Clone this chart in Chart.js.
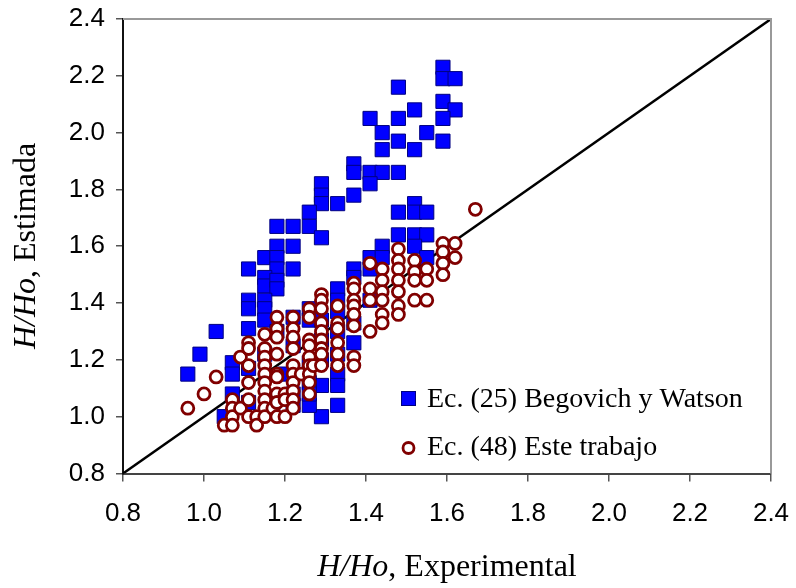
<!DOCTYPE html>
<html>
<head>
<meta charset="utf-8">
<script src="https://cdn.jsdelivr.net/npm/chart.js@4.4.1/dist/chart.umd.min.js"></script>
<style>
  html, body { margin: 0; padding: 0; background: #fff; }
</style>
</head>
<body>
<canvas id="chart" width="796" height="588"></canvas>
<script>
// Ec. (25) Begovich y Watson - estimated vs experimental H/Ho
const begX = [1.59, 1.59, 1.62, 1.48, 1.59, 1.52, 1.62, 1.41, 1.48, 1.59, 1.44, 1.55, 1.48, 1.59, 1.44, 1.52,
    1.37, 1.37, 1.41, 1.44, 1.48, 1.41, 1.29, 1.29, 1.37, 1.29, 1.33, 1.26, 1.52, 1.48, 1.52, 1.55,
    1.18, 1.22, 1.26, 1.29, 1.18, 1.22, 1.15, 1.18, 1.11, 1.18, 1.22, 1.15, 1.15, 1.18, 1.18, 1.11,
    1.15, 1.11, 1.15, 1.15, 1.26, 1.26, 1.03, 1.11, 0.99, 0.96, 1.07, 1.07, 1.07, 1.05,
    1.48, 1.52, 1.55, 1.44, 1.52, 1.41, 1.44, 1.55, 1.37, 1.37, 1.41, 1.33, 1.33, 1.37, 1.33, 1.33,
    1.29, 1.33, 1.29, 1.26, 1.18, 1.22, 1.22, 1.29, 1.15, 1.20, 1.26, 1.22, 1.29, 1.33, 1.11, 1.17,
    1.33, 1.29, 1.26, 1.11, 1.37, 1.41, 1.33, 1.26, 1.22];
const begY = [2.23, 2.19, 2.19, 2.16, 2.11, 2.08, 2.08, 2.05, 2.05, 2.05, 2.00, 2.00, 1.97, 1.97, 1.94, 1.94,
    1.89, 1.86, 1.86, 1.86, 1.86, 1.82, 1.82, 1.78, 1.78, 1.75, 1.75, 1.72, 1.75, 1.72, 1.72, 1.72,
    1.67, 1.67, 1.67, 1.63, 1.60, 1.60, 1.56, 1.56, 1.52, 1.52, 1.52, 1.49, 1.46, 1.48, 1.45, 1.41,
    1.41, 1.38, 1.38, 1.34, 1.38, 1.34, 1.30, 1.31, 1.22, 1.15, 1.19, 1.15, 1.08, 1.00,
    1.64, 1.64, 1.64, 1.60, 1.60, 1.56, 1.56, 1.56, 1.52, 1.49, 1.52, 1.45, 1.41, 1.26, 1.15, 1.11,
    1.11, 1.04, 1.00, 1.04, 1.30, 1.35, 1.25, 1.27, 1.22, 1.15, 1.12, 1.08, 1.20, 1.22, 1.05, 1.04,
    1.30, 1.34, 1.19, 1.17, 1.33, 1.41, 1.37, 1.08, 1.04];

// Ec. (48) Este trabajo
const esteX = [0.96, 1.00, 1.03, 1.05,
    1.07, 1.07, 1.07, 1.07, 1.09, 1.09,
    1.11, 1.11, 1.11, 1.11, 1.11, 1.11, 1.13, 1.13,
    1.15, 1.15, 1.15, 1.15, 1.15, 1.15, 1.15, 1.15, 1.15, 1.15, 1.17,
    1.18, 1.18, 1.18, 1.18, 1.18, 1.18, 1.18, 1.18, 1.18, 1.20, 1.20, 1.20,
    1.22, 1.22, 1.22, 1.22, 1.22, 1.22, 1.22, 1.22, 1.22, 1.22, 1.24,
    1.26, 1.26, 1.26, 1.26, 1.26, 1.26, 1.26, 1.26, 1.26, 1.27,
    1.29, 1.29, 1.29, 1.29, 1.29, 1.29, 1.29, 1.29, 1.29,
    1.33, 1.33, 1.33, 1.33, 1.33, 1.33,
    1.37, 1.37, 1.37, 1.37, 1.37, 1.37, 1.37, 1.37,
    1.41, 1.41, 1.41, 1.41,
    1.44, 1.44, 1.44, 1.44, 1.44, 1.44,
    1.48, 1.48, 1.48, 1.48, 1.48, 1.48, 1.48,
    1.52, 1.52, 1.52, 1.52, 1.55, 1.55, 1.55,
    1.59, 1.59, 1.59, 1.59, 1.62, 1.62, 1.67];
const esteY = [1.03, 1.08, 1.14, 0.97,
    1.06, 1.03, 1.00, 0.97, 1.21, 1.03,
    1.26, 1.24, 1.18, 1.12, 1.06, 1.00, 1.00, 0.97,
    1.29, 1.24, 1.21, 1.18, 1.15, 1.12, 1.09, 1.06, 1.03, 1.00, 1.03,
    1.35, 1.31, 1.28, 1.22, 1.15, 1.14, 1.08, 1.05, 1.00, 1.08, 1.06, 1.00,
    1.35, 1.31, 1.28, 1.24, 1.18, 1.15, 1.12, 1.09, 1.06, 1.03, 1.15,
    1.38, 1.35, 1.27, 1.25, 1.21, 1.18, 1.15, 1.12, 1.08, 1.18,
    1.43, 1.41, 1.38, 1.33, 1.30, 1.27, 1.24, 1.22, 1.18,
    1.39, 1.33, 1.31, 1.26, 1.22, 1.18,
    1.47, 1.45, 1.41, 1.39, 1.36, 1.32, 1.21, 1.18,
    1.54, 1.45, 1.41, 1.30,
    1.52, 1.48, 1.44, 1.41, 1.36, 1.33,
    1.59, 1.55, 1.52, 1.48, 1.44, 1.39, 1.36,
    1.55, 1.51, 1.48, 1.41, 1.52, 1.48, 1.41,
    1.61, 1.58, 1.54, 1.50, 1.61, 1.56, 1.73];

// 1:1 reference line
const lineX = [0.8, 2.4];
const lineY = [0.8, 2.4];

const axisMin = 0.8;
const axisMax = 2.4;
const axisStep = 0.2;

const begLabel = 'Ec. (25) Begovich y Watson';
const esteLabel = 'Ec. (48) Este trabajo';

const toPoints = (xs, ys) => xs.map((x, i) => ({ x: x, y: ys[i] }));

const serif = '"Liberation Serif", "Times New Roman", serif';
const sans = '"Liberation Sans", Arial, sans-serif';

// Draws frame (top/right), axis titles and the legend box
const extras = {
    id: 'extras',
    afterDraw(chart) {
        const ctx = chart.ctx;
        const a = chart.chartArea;
        ctx.save();

        // top and right frame lines
        ctx.strokeStyle = '#999';
        ctx.lineWidth = 2;
        ctx.beginPath();
        ctx.moveTo(a.left, a.top);
        ctx.lineTo(a.right, a.top);
        ctx.lineTo(a.right, a.bottom);
        ctx.stroke();

        // x title: italic part + regular part
        ctx.fillStyle = '#000';
        ctx.textBaseline = 'alphabetic';
        drawMixed(ctx, 'H/Ho', ', Experimental', 447, 576);

        // y title rotated
        ctx.save();
        ctx.translate(35, 246);
        ctx.rotate(-Math.PI / 2);
        drawMixed(ctx, 'H/Ho', ', Estimada', 0, 0);
        ctx.restore();

        // legend
        ctx.font = '28px ' + serif;
        ctx.textAlign = 'left';
        ctx.textBaseline = 'middle';
        ctx.fillStyle = '#0000ff';
        ctx.strokeStyle = '#000080';
        ctx.lineWidth = 1;
        ctx.fillRect(401.5, 391.5, 14, 14);
        ctx.strokeRect(401.5, 391.5, 14, 14);
        ctx.fillStyle = '#000';
        ctx.fillText(begLabel, 427, 400);

        ctx.beginPath();
        ctx.arc(408.5, 448, 5.5, 0, Math.PI * 2);
        ctx.fillStyle = '#fff';
        ctx.fill();
        ctx.strokeStyle = '#800000';
        ctx.lineWidth = 2.8;
        ctx.stroke();
        ctx.fillStyle = '#000';
        ctx.fillText(esteLabel, 427, 448);

        ctx.restore();
    }
};

function drawMixed(ctx, italicPart, plainPart, cx, y) {
    ctx.font = 'italic 32px ' + serif;
    const w1 = ctx.measureText(italicPart).width;
    ctx.font = '32px ' + serif;
    const w2 = ctx.measureText(plainPart).width;
    const x0 = cx - (w1 + w2) / 2;
    ctx.textAlign = 'left';
    ctx.font = 'italic 32px ' + serif;
    ctx.fillText(italicPart, x0, y);
    ctx.font = '32px ' + serif;
    ctx.fillText(plainPart, x0 + w1, y);
}

const chart = new Chart(
    document.getElementById('chart'),
    {
        type: 'scatter',
        data: {
            datasets: [
                {
                    label: esteLabel,
                    data: toPoints(esteX, esteY),
                    pointStyle: 'circle',
                    pointRadius: 6,
                    pointBackgroundColor: '#ffffff',
                    pointBorderColor: '#800000',
                    pointBorderWidth: 2.8,
                    order: 0
                },
                {
                    label: begLabel,
                    data: toPoints(begX, begY),
                    pointStyle: 'rect',
                    pointRadius: 10,
                    pointBackgroundColor: '#0000ff',
                    pointBorderColor: '#000080',
                    pointBorderWidth: 1,
                    order: 1
                },
                {
                    type: 'line',
                    label: '1:1',
                    data: toPoints(lineX, lineY),
                    borderColor: '#000',
                    borderWidth: 2.5,
                    pointRadius: 0,
                    fill: false,
                    order: 2
                }
            ]
        },
        options: {
            responsive: false,
            animation: false,
            events: [],
            layout: {
                padding: { left: 0, top: 19, right: 25, bottom: 0 }
            },
            scales: {
                x: {
                    type: 'linear',
                    min: axisMin,
                    max: axisMax,
                    afterFit: (scale) => {
                        scale.height = 114.5;
                        scale.paddingLeft = 0;
                        scale.paddingRight = 0;
                    },
                    ticks: {
                        stepSize: axisStep,
                        autoSkip: false,
                        maxRotation: 0,
                        padding: 17,
                        color: '#000',
                        font: { family: sans, size: 26 },
                        callback: (v) => v.toFixed(1)
                    },
                    grid: {
                        drawOnChartArea: false,
                        drawTicks: true,
                        tickLength: 8,
                        color: '#555',
                        lineWidth: 1.5
                    },
                    border: { color: '#444', width: 2 }
                },
                y: {
                    type: 'linear',
                    min: axisMin,
                    max: axisMax,
                    afterFit: (scale) => {
                        scale.width = 123;
                        scale.paddingTop = 0;
                        scale.paddingBottom = 0;
                    },
                    ticks: {
                        stepSize: axisStep,
                        autoSkip: false,
                        padding: 11,
                        color: '#000',
                        font: { family: sans, size: 26 },
                        callback: (v) => v.toFixed(1)
                    },
                    grid: {
                        drawOnChartArea: false,
                        drawTicks: true,
                        tickLength: 7,
                        color: '#555',
                        lineWidth: 1.5
                    },
                    border: { color: '#111', width: 2 }
                }
            },
            plugins: {
                legend: { display: false },
                tooltip: { enabled: false }
            }
        },
        plugins: [extras]
    }
);
</script>
</body>
</html>
